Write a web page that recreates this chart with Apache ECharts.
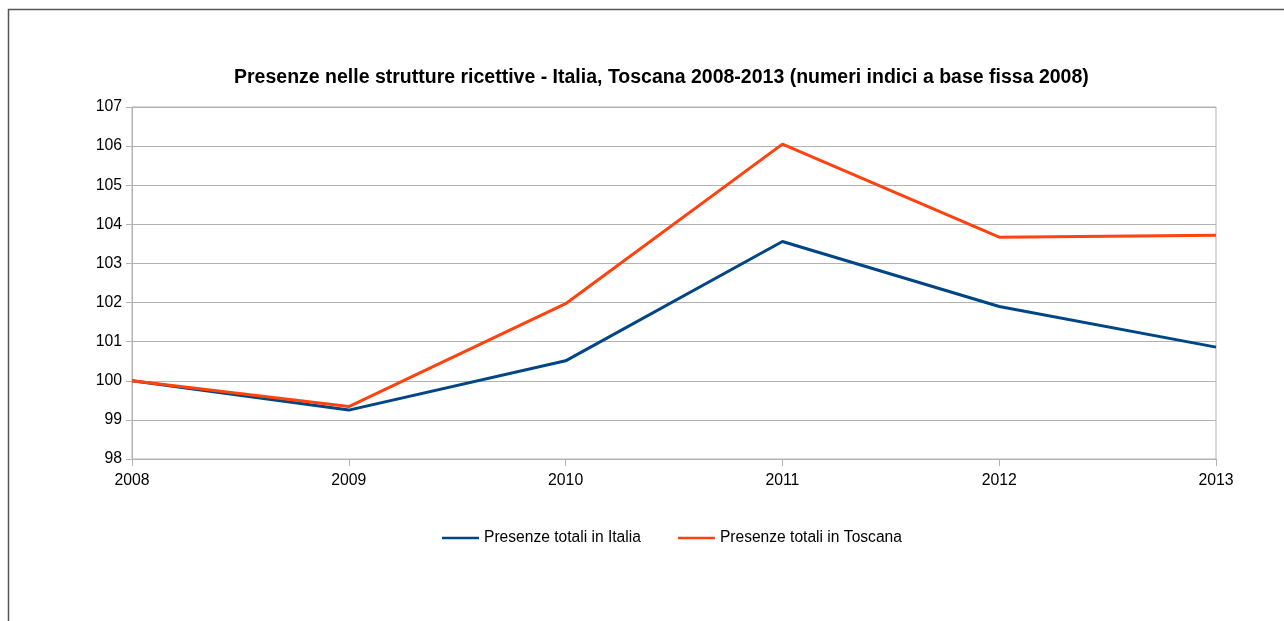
<!DOCTYPE html>
<html>
<head>
<meta charset="utf-8">
<script src="https://cdn.jsdelivr.net/npm/echarts@6/dist/echarts.min.js"></script>
<style>
  html, body { margin: 0; padding: 0; background: #fff; }
  #chart { width: 1284px; height: 621px; }
</style>
</head>
<body>
<div id="chart"></div>
<script>
// Anni della serie storica
const years = ['2008', '2009', '2010', '2011', '2012', '2013'];
// Numeri indici a base fissa 2008 = 100
const italia = [100, 99.25, 100.51, 103.56, 101.9, 100.86];
const toscana = [100, 99.34, 101.97, 106.05, 103.67, 103.72];

const seriesNames = ['Presenze totali in Italia', 'Presenze totali in Toscana'];
const titleText = 'Presenze nelle strutture ricettive - Italia, Toscana 2008-2013 (numeri indici a base fissa 2008)';

const font = '"Liberation Sans", Arial, sans-serif';
const gridColor = '#b3b3b3';

const chart = echarts.init(document.getElementById('chart'), null, { renderer: 'canvas' });

chart.setOption({
  backgroundColor: '#ffffff',
  animation: false,
  graphic: [{
    type: 'rect',
    silent: true,
    shape: { x: 8.5, y: 9.5, width: 1400, height: 700 },
    style: { fill: 'none', stroke: '#555555', lineWidth: 1.5 }
  }],
  title: {
    text: titleText,
    left: 229,
    top: 63,
    textStyle: { fontFamily: font, fontSize: 19.5, fontWeight: 'bold', color: '#000' }
  },
  legend: {
    data: seriesNames,
    left: 437,
    top: 525,
    icon: 'rect',
    itemWidth: 37,
    itemHeight: 2.5,
    itemGap: 37,
    textStyle: { fontFamily: font, fontSize: 15.6, color: '#000', padding: [0, 0, 0, 0] }
  },
  grid: {
    left: 132,
    right: 68,
    top: 107,
    bottom: 162,
    show: true,
    borderColor: gridColor,
    borderWidth: 1,
    containLabel: false
  },
  xAxis: {
    type: 'category',
    data: years,
    boundaryGap: false,
    axisLine: { show: true, lineStyle: { color: gridColor, width: 1 } },
    axisTick: { show: true, length: 7, lineStyle: { color: gridColor } },
    axisLabel: { fontFamily: font, fontSize: 15.8, color: '#000', margin: 14 },
    splitLine: { show: false }
  },
  yAxis: {
    type: 'value',
    min: 98,
    max: 107,
    interval: 1,
    axisLine: { show: true, lineStyle: { color: gridColor, width: 1 } },
    axisTick: { show: true, length: 6, lineStyle: { color: gridColor } },
    axisLabel: { fontFamily: font, fontSize: 15.8, color: '#000', margin: 10, padding: [2, 0, 0, 0] },
    splitLine: { show: true, lineStyle: { color: gridColor, width: 1 } }
  },
  series: [
    {
      name: seriesNames[0],
      type: 'line',
      data: italia,
      showSymbol: false,
      symbol: 'none',
      color: '#004586',
      lineStyle: { width: 3, color: '#004586' },
      z: 2
    },
    {
      name: seriesNames[1],
      type: 'line',
      data: toscana,
      showSymbol: false,
      symbol: 'none',
      color: '#ff420e',
      lineStyle: { width: 3, color: '#ff420e' },
      z: 3
    }
  ]
});
</script>
</body>
</html>
